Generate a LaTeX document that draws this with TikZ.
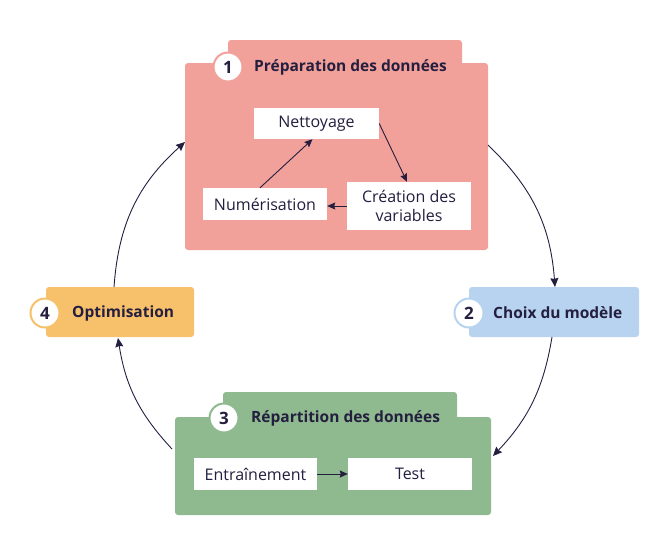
\documentclass[tikz,border=0pt]{standalone}
\usepackage{fontspec}
\setmainfont{Open Sans}
\usetikzlibrary{arrows.meta,positioning}
\definecolor{ink}{HTML}{241E3F}
\definecolor{pinkc}{HTML}{F2A19A}
\definecolor{greenc}{HTML}{8FB98F}
\definecolor{orangec}{HTML}{F7C06A}
\definecolor{bluec}{HTML}{B7D3F0}
\tikzset{
  panel/.style={fill=#1, draw=none, rounded corners=3pt, inner sep=0pt},
  inbox/.style={fill=white, draw=none, inner sep=0pt, text=ink, font=\fontsize{16}{19}\selectfont, align=center},
  numcirc/.style={circle, fill=white, draw=#1, line width=2pt, minimum size=29pt, inner sep=0pt, text=ink, font=\bfseries\fontsize{17}{19}\selectfont},
  ttl/.style={text=ink, font=\bfseries\fontsize{15.5}{18}\selectfont, anchor=west, inner sep=0pt},
  flow/.style={draw=ink, line width=0.9pt, -{Stealth[length=9pt,width=8pt,inset=1pt]}},
  innerflow/.style={draw=ink, line width=0.9pt, -{Stealth[length=8pt,width=7pt,inset=1pt]}}
}
\begin{document}
\begin{tikzpicture}[x=1pt,y=-1pt]
\useasboundingbox (0,0) rectangle (661,547);
% Panel 1
\node[panel=pinkc, minimum width=234pt, minimum height=30pt] (tab1) at (345,55) {};
\node[panel=pinkc, minimum width=303pt, minimum height=187pt] (b1) at (336.5,156.5) {};
\node[numcirc=pinkc] (c1) at (228,67) {1};
\node[ttl] (t1) at (254,67) {Préparation des données};
\node[inbox, minimum width=125pt, minimum height=31pt] (nett) at (316.5,123.5) {Nettoyage};
\node[inbox, minimum width=124pt, minimum height=48pt] (crea) at (409,206) {Création des\\variables};
\node[inbox, minimum width=124pt, minimum height=32pt] (num) at (265,204) {Numérisation};
\draw[innerflow] (nett.east) -- ([xshift=-2pt]crea.north);
\draw[innerflow] (crea.west) -- (crea.west -| num.east);
\draw[innerflow] ([xshift=-5pt]num.north) -- ([xshift=-4pt]nett.south);
% Panel 2
\node[panel=bluec, minimum width=170pt, minimum height=50pt] (b2) at (554,312) {};
\node[numcirc=bluec] (c2) at (469,313) {2};
\node[ttl] (t2) at (493,313) {Choix du modèle};
% Panel 3
\node[panel=greenc, minimum width=234pt, minimum height=30pt] (tab3) at (340,407) {};
\node[panel=greenc, minimum width=316pt, minimum height=98pt] (b3) at (333,466) {};
\node[numcirc=greenc] (c3) at (224,418) {3};
\node[ttl] (t3) at (251,418) {Répartition des données};
\node[inbox, minimum width=123pt, minimum height=32pt] (ent) at (255.5,474) {Entraînement};
\node[inbox, minimum width=124pt, minimum height=32pt] (test) at (410,474) {Test};
\draw[innerflow] (ent.east) -- (test.west);
% Panel 4
\node[panel=orangec, minimum width=148pt, minimum height=50pt] (b4) at (120,312) {};
\node[numcirc=orangec] (c4) at (45,313) {4};
\node[ttl] (t4) at (72,313) {Optimisation};
% cycle connectors
\coordinate (s12) at (488,145);
\coordinate (e12) at (555,287);
\coordinate (s23) at (552,337);
\coordinate (e23) at (493,456);
\coordinate (s34) at (172,449);
\coordinate (e34) at (118,338);
\coordinate (s41) at (114,287);
\coordinate (e41) at (185,142);
\draw[flow] (s12) to[bend left=21] (e12);
\draw[flow] (s23) to[bend left=17] (e23);
\draw[flow] (s34) to[bend left=17] (e34);
\draw[flow] (s41) to[bend left=22] (e41);
\end{tikzpicture}
\end{document}
